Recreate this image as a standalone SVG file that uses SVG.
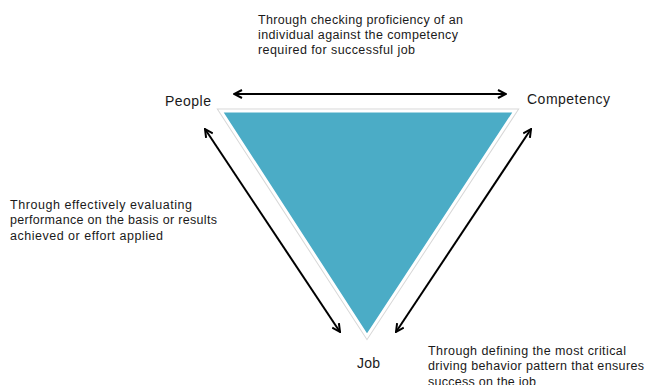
<svg xmlns="http://www.w3.org/2000/svg" width="645" height="385" viewBox="0 0 645 385">
<style>
text{font-family:"Liberation Sans","DejaVu Sans",sans-serif;fill:#1a1a1a}
.lbl{font-size:14px}
.note{font-size:12.5px}
.arr{stroke:#000;stroke-width:2;fill:none;marker-start:url(#ah);marker-end:url(#ah)}
</style>
<defs>
<marker id="ah" viewBox="0 0 10 10" refX="9" refY="5" markerWidth="5" markerHeight="5" orient="auto-start-reverse" markerUnits="strokeWidth">
<path d="M1,1 L9,5 L1,9" fill="none" stroke="#000" stroke-width="2" stroke-linejoin="miter"/>
</marker>
</defs>
<rect width="645" height="385" fill="#fff"/>
<g id="triangle">
<polygon points="221,111 515,111 367,336" fill="none" stroke="#d8d8d8" stroke-width="5" stroke-linejoin="miter"/>
<polygon points="221,111 515,111 367,336" fill="#4BACC6" stroke="#fff" stroke-width="3" stroke-linejoin="miter"/>
</g>
<g id="connectors">
<line class="arr" x1="234" y1="94" x2="506" y2="94"/>
<line class="arr" x1="205" y1="129" x2="340" y2="332"/>
<line class="arr" x1="531" y1="129" x2="396" y2="332"/>
</g>
<g id="node-people"><text class="lbl" x="165" y="106" textLength="46" lengthAdjust="spacing">People</text></g>
<g id="node-competency"><text class="lbl" x="527" y="104" textLength="83" lengthAdjust="spacing">Competency</text></g>
<g id="node-job"><text class="lbl" x="357" y="368" textLength="23" lengthAdjust="spacing">Job</text></g>
<g id="note-top">
<text class="note" x="258" y="24" textLength="205" lengthAdjust="spacing">Through checking proficiency of an</text>
<text class="note" x="258" y="39" textLength="200" lengthAdjust="spacing">individual against the competency</text>
<text class="note" x="258" y="54" textLength="157" lengthAdjust="spacing">required for successful job</text>
</g>
<g id="note-left">
<text class="note" x="10" y="209" textLength="182" lengthAdjust="spacing">Through effectively evaluating</text>
<text class="note" x="10" y="224" textLength="207" lengthAdjust="spacing">performance on the basis or results</text>
<text class="note" x="10" y="240" textLength="153" lengthAdjust="spacing">achieved or effort applied</text>
</g>
<g id="note-right">
<text class="note" x="428" y="355" textLength="198" lengthAdjust="spacing">Through defining the most critical</text>
<text class="note" x="428" y="370" textLength="216" lengthAdjust="spacing">driving behavior pattern that ensures</text>
<text class="note" x="428" y="386" textLength="108" lengthAdjust="spacing">success on the job</text>
</g>
</svg>
